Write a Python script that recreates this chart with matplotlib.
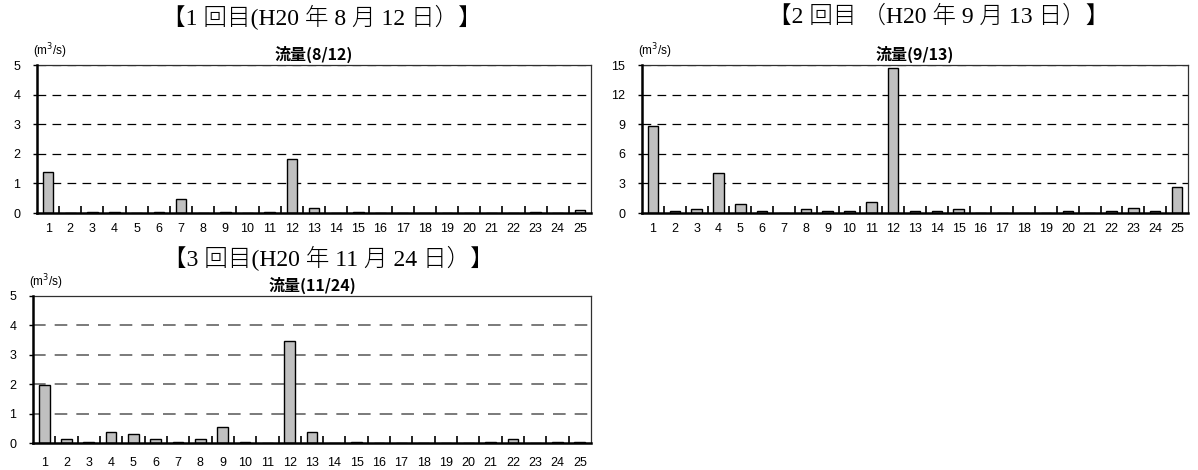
import matplotlib
matplotlib.use("Agg")
import matplotlib.pyplot as plt
import numpy as np

# Survey points 1..25
points = list(range(1, 26))

# Discharge (m3/s) per survey point
flow_0812 = [1.37, 0, 0.05, 0.05, 0, 0.05, 0.46, 0, 0.05, 0, 0.05, 1.84, 0.18,
             0, 0.05, 0, 0, 0, 0, 0, 0, 0, 0.05, 0, 0.1]
flow_0913 = [8.8, 0.2, 0.4, 4.1, 0.9, 0.2, 0, 0.4, 0.2, 0.2, 1.1, 14.67, 0.2,
             0.2, 0.4, 0, 0, 0, 0, 0.2, 0, 0.2, 0.5, 0.2, 2.64]
flow_1124 = [1.97, 0.12, 0.05, 0.37, 0.3, 0.12, 0.05, 0.12, 0.55, 0.05, 0, 3.47, 0.37,
             0, 0.05, 0, 0, 0, 0, 0, 0.05, 0.12, 0, 0.05, 0.05]

titles = ["【1 回目(H20 年 8 月 12 日）】",
          "【2 回目 （H20 年 9 月 13 日）】",
          "【3 回目(H20 年 11 月 24 日）】"]
subtitles = ["流量(8/12)", "流量(9/13)", "流量(11/24)"]
unit_label = "(m$^3$/s)"
y_max = [5, 15, 5]
y_step = [1, 3, 1]

W, H = 1198, 470
fig = plt.figure(figsize=(W / 100, H / 100), dpi=100)
fig.patch.set_facecolor("white")

SERIF = ["Liberation Serif", "Noto Sans CJK JP"]
SANS = ["Liberation Sans", "Noto Sans CJK JP"]
CJK = ["Noto Sans CJK JP", "Liberation Sans"]


def px_axes(x0, y0, x1, y1):
    return fig.add_axes([x0 / W, 1 - y1 / H, (x1 - x0) / W, (y1 - y0) / H])


boxes = [(37, 65, 591, 213), (642, 65, 1188, 213), (33, 296, 591, 443)]
title_pos = [(322, 17), (939, 17), (328, 258)]
grid_colors = ["black", "black", "#707070"]
series = [flow_0812, flow_0913, flow_1124]

for i, (box, data) in enumerate(zip(boxes, series)):
    ax = px_axes(*box)
    ax.bar(points, data, width=0.48, color="#c0c0c0", edgecolor="black",
           linewidth=1.0, zorder=3)
    ax.set_xlim(0.5, 25.5)
    ax.set_ylim(0, y_max[i])
    ax.set_yticks(np.arange(0, y_max[i] + 0.1, y_step[i]))
    ax.set_xticks(points)
    ax.set_xticklabels([str(p) for p in points])
    ax.set_xticks(np.arange(1.5, 25.5, 1), minor=True)
    ax.tick_params(axis="x", which="major", length=0, pad=7 if i < 2 else 10,
                   labelsize=9)
    ax.tick_params(axis="x", which="minor", direction="in", length=5, width=1.2)
    ax.tick_params(axis="y", which="major", direction="out", length=3, width=1,
                   labelsize=9, pad=9)
    for lab in ax.get_xticklabels() + ax.get_yticklabels():
        lab.set_family(SANS)
    # dashed horizontal gridlines
    for v in np.arange(y_step[i], y_max[i] + 0.1, y_step[i]):
        ax.axhline(v, color=grid_colors[i], lw=0.9 if i < 2 else 1.3,
                   dashes=(7, 5), zorder=1)
    for s in ["left", "bottom"]:
        ax.spines[s].set_linewidth(1.8)
        ax.spines[s].set_color("black")
        ax.spines[s].set_zorder(4)
    for s in ["top", "right"]:
        ax.spines[s].set_linewidth(0.9)
        ax.spines[s].set_color("#303030")
    ax.text(0.5, 1.015, subtitles[i], transform=ax.transAxes, ha="center",
            va="bottom", fontsize=11.5, fontweight="bold", family=CJK)
    ax.text(-0.008, 1.025, unit_label, transform=ax.transAxes, ha="left",
            va="bottom", fontsize=8.5, family=SANS)
    tx, ty = title_pos[i]
    fig.text(tx / W, 1 - ty / H, titles[i], ha="center", va="center",
             fontsize=17, family=SERIF, fontweight="light")

fig.savefig("out.png", dpi=100)
